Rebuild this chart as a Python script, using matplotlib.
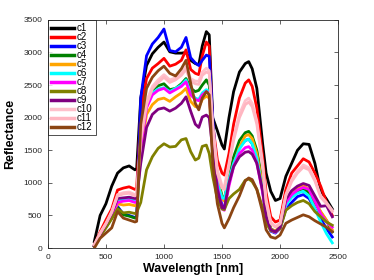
import numpy as np
import matplotlib
matplotlib.use("Agg")
import matplotlib.pyplot as plt

plt.rcParams['font.family'] = ['Liberation Sans', 'DejaVu Sans']

wl = [400, 450, 500, 550, 600, 650, 700, 750, 765, 800, 850, 900, 950, 1000,
      1050, 1100, 1150, 1190, 1230, 1270, 1300, 1330, 1365, 1390, 1420, 1460,
      1500, 1520, 1560, 1600, 1650, 1700, 1730, 1760, 1800, 1850, 1880, 1920,
      1960, 2000, 2050, 2100, 2150, 2200, 2250, 2300, 2350, 2400, 2450]

c1 = [100, 500, 680, 950, 1150, 1230, 1260, 1200, 1220, 2300, 2800, 2980, 3080, 3160,
      3010, 2990, 2990, 3000, 2880, 2830, 2810, 3100, 3320, 3270, 2000, 1800,
      1580, 1520, 2000, 2400, 2700, 2830, 2860, 2750, 2450, 1600, 1150, 870,
      730, 760, 1100, 1300, 1500, 1600, 1590, 1300, 880, 750, 600]
c2 = [50, 250, 430, 600, 890, 920, 940, 900, 920, 2100, 2600, 2760, 2830, 2910,
      2790, 2820, 2880, 3040, 2740, 2680, 2660, 2950, 3160, 3100, 1900, 1350,
      1150, 1120, 1450, 1900, 2300, 2530, 2580, 2480, 2150, 1400, 850, 480,
      400, 430, 900, 1150, 1260, 1370, 1320, 1150, 950, 700, 500]
c3 = [30, 200, 330, 470, 640, 520, 500, 470, 480, 2300, 2950, 3130, 3230, 3360,
      3030, 3010, 3080, 3230, 2920, 2840, 2800, 2880, 2960, 2940, 2000, 1000,
      650, 610, 1000, 1300, 1550, 1650, 1670, 1600, 1400, 900, 500, 260,
      230, 300, 600, 700, 790, 820, 760, 600, 450, 300, 170]
c4 = [30, 190, 320, 460, 620, 510, 490, 460, 470, 1600, 2200, 2420, 2490, 2520,
      2430, 2450, 2520, 2600, 2450, 2400, 2420, 2500, 2580, 2500, 1800, 1100,
      800, 750, 1100, 1400, 1650, 1770, 1790, 1720, 1500, 1000, 550, 300,
      250, 330, 700, 810, 880, 910, 850, 700, 550, 420, 250]
c5 = [40, 200, 340, 490, 680, 660, 670, 650, 660, 1500, 2050, 2200, 2280, 2300,
      2250, 2320, 2380, 2450, 2250, 2170, 2160, 2280, 2330, 2300, 1700, 1050,
      760, 720, 1050, 1280, 1550, 1720, 1740, 1680, 1450, 950, 520, 290,
      260, 320, 720, 850, 920, 960, 900, 720, 560, 430, 280]
c6 = [40, 210, 350, 510, 720, 740, 760, 720, 730, 1600, 2200, 2380, 2440, 2460,
      2400, 2450, 2500, 2580, 2380, 2300, 2280, 2380, 2430, 2400, 1700, 1000,
      770, 760, 1050, 1300, 1520, 1650, 1670, 1600, 1380, 880, 480, 270,
      240, 300, 650, 780, 840, 870, 800, 600, 400, 220, 80]
c7 = [40, 200, 345, 500, 700, 720, 730, 700, 710, 1550, 2150, 2350, 2420, 2450,
      2380, 2430, 2480, 2550, 2350, 2280, 2260, 2350, 2400, 2370, 1650, 950,
      600, 580, 950, 1250, 1450, 1540, 1556, 1500, 1300, 850, 460, 270,
      240, 300, 700, 820, 890, 930, 900, 720, 530, 400, 320]
c8 = [30, 180, 310, 450, 600, 540, 550, 530, 550, 700, 1200, 1400, 1530, 1600,
      1550, 1560, 1660, 1680, 1480, 1350, 1380, 1560, 1580, 1450, 1100, 750,
      600, 590, 760, 830, 900, 1040, 1060, 1020, 900, 620, 380, 270,
      250, 300, 580, 650, 700, 730, 680, 560, 480, 400, 350]
c9 = [40, 210, 360, 530, 760, 770, 780, 760, 770, 1300, 1850, 2050, 2130, 2150,
      2100, 2146, 2220, 2320, 2100, 1900, 1850, 2010, 2040, 2000, 1500, 900,
      620, 610, 1000, 1250, 1400, 1470, 1480, 1440, 1300, 880, 480, 280,
      250, 320, 750, 880, 950, 990, 960, 800, 640, 650, 480]
c10 = [50, 230, 380, 560, 820, 850, 860, 820, 840, 1700, 2250, 2480, 2580, 2660,
       2580, 2610, 2680, 2780, 2600, 2560, 2560, 2700, 2760, 2720, 1900, 1200,
       960, 940, 1300, 1700, 2050, 2260, 2300, 2220, 1950, 1300, 750, 400,
       330, 380, 820, 1050, 1180, 1275, 1230, 1050, 800, 700, 580]
c11 = [50, 225, 370, 545, 800, 830, 840, 800, 820, 1650, 2200, 2440, 2540, 2620,
       2540, 2580, 2650, 2740, 2560, 2520, 2510, 2650, 2700, 2680, 1850, 1150,
       920, 900, 1250, 1650, 2000, 2200, 2240, 2170, 1900, 1250, 700, 380,
       320, 370, 800, 1020, 1150, 1240, 1200, 1030, 780, 680, 560]
c12 = [0, 150, 230, 310, 560, 460, 430, 400, 410, 1900, 2450, 2620, 2720, 2790,
       2680, 2640, 2750, 2880, 2530, 2220, 2120, 2300, 2400, 2350, 1300, 680,
       380, 310, 450, 620, 800, 1030, 1075, 1050, 900, 550, 280, 170,
       150, 200, 380, 430, 470, 510, 480, 420, 370, 320, 250]

series = [c1, c2, c3, c4, c5, c6, c7, c8, c9, c10, c11, c12]
names = ['c1', 'c2', 'c3', 'c4', 'c5', 'c6', 'c7', 'c8', 'c9', 'c10', 'c11', 'c12']
colors = ['black', 'red', 'blue', 'green', 'orange', 'cyan', 'magenta',
          'olive', 'purple', 'pink', '#ffb6c1', '#8b4513']

fig = plt.figure(figsize=(3.74, 2.8), dpi=100)
ax = fig.add_axes([0.128, 0.114, 0.776, 0.815])

for ys, name, col in zip(series, names, colors):
    ax.plot(wl, ys, color=col, lw=2.0, label=name)

ax.set_xlim(0, 2500)
ax.set_ylim(0, 3500)
ax.set_xticks(np.arange(0, 2501, 500))
ax.set_yticks(np.arange(0, 3501, 500))
ax.tick_params(direction='in', top=True, right=True, length=3, width=0.5,
               labelsize=6, colors='#262626', pad=4)
for sp in ax.spines.values():
    sp.set_linewidth(0.6)
    sp.set_color('#262626')

ax.set_xlabel('Wavelength [nm]', fontsize=9, fontweight='bold', labelpad=2)
ax.set_ylabel('Reflectance', fontsize=9, fontweight='bold', labelpad=5)

leg = ax.legend(loc='upper left', fontsize=7, frameon=True, fancybox=False,
                labelspacing=-0.1, handlelength=2.4, handletextpad=0.3,
                handleheight=0.5, borderpad=0.3, borderaxespad=0.0)
leg.get_frame().set_edgecolor('black')
leg.get_frame().set_linewidth(0.6)
for ln in leg.get_lines():
    ln.set_linewidth(2.5)

fig.savefig('out.png', dpi=100)
